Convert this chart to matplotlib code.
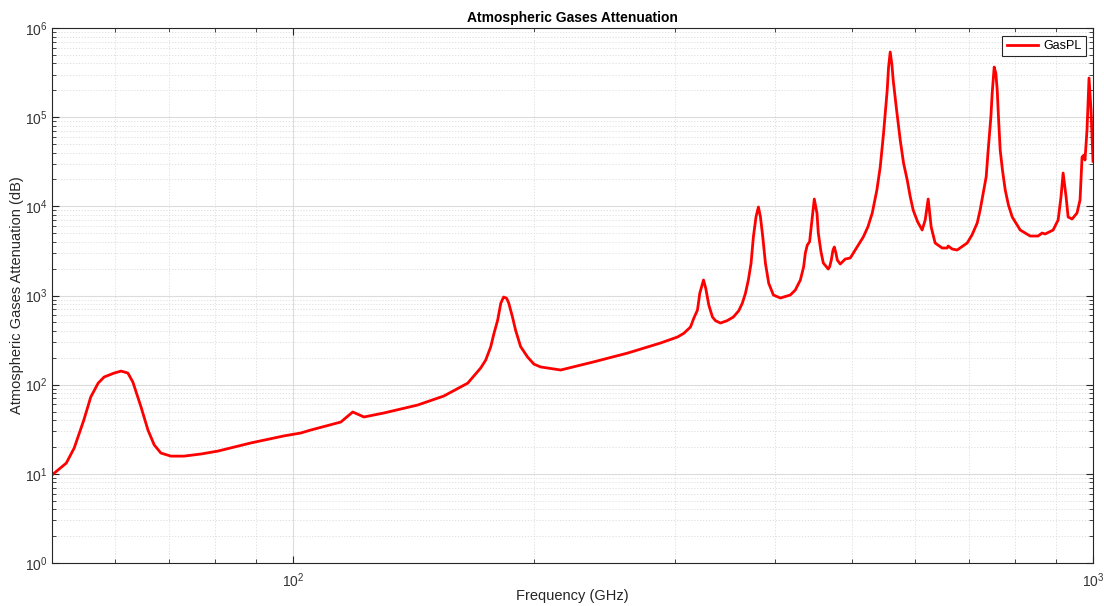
import matplotlib
matplotlib.use("Agg")
import matplotlib.pyplot as plt
from matplotlib.ticker import LogLocator, NullFormatter
import numpy as np

plt.rcParams['font.family'] = ['Liberation Sans', 'DejaVu Sans']
plt.rcParams['mathtext.fontset'] = 'custom'
plt.rcParams['mathtext.rm'] = 'Liberation Sans'
plt.rcParams['mathtext.it'] = 'Liberation Sans:italic'

# Frequency (GHz)
freq = [50.0, 52.1, 53.3, 54.8, 55.9, 57.1, 58.1, 59.8, 61.0, 62.2, 63.1, 64.6, 65.9, 67.1, 68.4,
        70.4, 73.1, 76.8, 80.6, 88.6, 97.4, 102.3,
        105.3, 114.8, 118.8, 122.7, 129.9, 143.2, 154.4, 165.4, 171.7, 174.2, 176.7, 178.4, 180.3,
        181.9, 183.4, 185.0, 186.1, 188.1, 189.8, 192.6, 196.5, 200.1, 204.0, 216.1,
        237.6, 262.0, 288.0, 302.4, 308.1, 314.0, 317.0, 320.4, 322.5, 326.0, 328.1, 331.0, 334.5,
        337.4, 342.3, 348.9, 355.3, 360.8, 364.6, 367.8, 370.9, 373.8, 376.3, 379.2, 381.8, 384.0,
        386.6, 389.6, 393.3, 398.6, 406.7,
        418.5, 424.6, 430.8, 434.9, 437.0, 439.5, 442.4, 445.5, 448.4, 451.9, 453.6, 457.1, 460.2,
        466.8, 468.7, 470.9, 473.2, 475.0, 477.3, 479.1, 483.2,
        490.2, 497.3, 504.5, 516.3, 523.3, 529.8, 536.9, 542.1, 547.3, 553.1, 555.2, 557.9, 560.6,
        562.7, 567.6, 574.2, 579.8, 585.9, 591.0, 596.0, 603.6, 611.6,
        617.0, 622.3, 627.7, 634.9, 647.8, 657.2, 659.2, 666.8,
        676.4, 696.2, 705.9, 716.6, 722.7, 729.1, 735.4, 739.6, 745.4, 748.2, 750.9, 752.5, 756.1,
        759.1, 761.8, 765.6, 770.6, 776.8, 784.0, 792.6, 811.0, 834.5,
        853.9, 863.8, 871.3, 891.6, 904.5, 912.0, 917.6, 925.5, 930.9, 941.6, 955.0, 963.4, 969.0,
        974.5, 977.2, 982.9, 988.6, 994.3, 1000.0]

# Attenuation (dB)
atten = [9.7, 13.2, 19.5, 40.2, 72.7, 104, 122, 135, 142, 135, 107, 56.2, 31.0, 21.1, 17.1,
         15.8, 15.8, 16.7, 18.0, 22.2, 26.6, 28.7,
         31.0, 38.1, 49.4, 43.4, 48.1, 59.1, 74.6, 104, 154, 189, 265, 377, 531,
         817, 962, 930, 824, 578, 410, 267, 204, 170, 158, 146,
         180, 226, 293, 342, 377, 443, 555, 688, 1058, 1492, 1204, 782, 574,
         522, 491, 522, 574, 675, 824, 1058, 1492, 2296, 4529, 7648, 9826, 7648,
         4564, 2296, 1370, 1013, 937,
         1013, 1152, 1492, 2104, 2995, 3683, 4012, 7025, 12080, 8352, 5022, 3098, 2313,
         1982, 2104, 2500, 3237, 3498, 2972, 2500, 2254,
         2566, 2633, 3237, 4529, 5911, 8418, 15240, 27600, 65860, 201600, 360000, 538000, 390000,
         261000, 131000, 55430, 30370, 19740, 12820, 9094, 6722, 5425,
         7025, 12080, 5864, 3879, 3409, 3409, 3589, 3322,
         3237, 3879, 4769, 6501, 9094, 14110, 21500, 42800, 101200, 186600, 284400, 365000, 310100,
         201600, 101200, 42800, 25550, 15240, 10340, 7592, 5425, 4647,
         4647, 5022, 4893, 5425, 7025, 12720, 23640, 12720, 7592, 7208, 8418, 11770, 35740,
         37630, 33080, 71770, 274900, 120300, 32000]

series_name = "GasPL"
title = "Atmospheric Gases Attenuation"
xlabel = "Frequency (GHz)"
ylabel = "Atmospheric Gases Attenuation (dB)"

fig = plt.figure(figsize=(11.04, 6.06), dpi=100)
ax = fig.add_axes([52/1104, 43/606, 1041/1104, 535/606])

ax.loglog(freq, atten, color='#ff0000', lw=2.0, label=series_name, solid_joinstyle='round')
ax.set_xlim(50, 1000)
ax.set_ylim(1, 1e6)

ax.xaxis.set_major_locator(LogLocator(base=10, numticks=10))
ax.xaxis.set_minor_locator(LogLocator(base=10, subs=np.arange(2, 10), numticks=20))
ax.yaxis.set_major_locator(LogLocator(base=10, numticks=10))
ax.yaxis.set_minor_locator(LogLocator(base=10, subs=np.arange(2, 10), numticks=20))
ax.xaxis.set_minor_formatter(NullFormatter())
ax.yaxis.set_minor_formatter(NullFormatter())

ax.grid(True, which='major', color='#dcdcdc', lw=0.8, ls='-')
ax.grid(True, which='minor', color='#dcdcdc', lw=0.6, ls=(0, (1.5, 2)))
ax.set_axisbelow(True)

for s in ax.spines.values():
    s.set_color('#262626')
    s.set_linewidth(0.8)
ax.tick_params(which='both', direction='in', top=True, right=True, colors='#262626',
               labelsize=10, labelcolor='#333333')
ax.tick_params(which='major', length=5, width=0.8)
ax.tick_params(which='minor', length=3, width=0.6)
ax.tick_params(axis='x', pad=6)

ax.set_title(title, fontsize=10, fontweight='bold', color='#000000', pad=4)
ax.set_xlabel(xlabel, fontsize=10.5, color='#262626', va='center')
ax.xaxis.set_label_coords(0.5, -(596 - 563) / 535)
ax.set_ylabel(ylabel, fontsize=10.5, color='#262626', va='center')
ax.yaxis.set_label_coords((17 - 52) / 1041, 0.5)

leg = ax.legend(loc='upper right', fontsize=9, frameon=True, fancybox=False,
                borderaxespad=0.6, handlelength=2.5, borderpad=0.35, handletextpad=0.4)
leg.get_frame().set_edgecolor('#262626')
leg.get_frame().set_linewidth(0.8)
leg.get_frame().set_alpha(1)

fig.savefig('out.png', dpi=100)
